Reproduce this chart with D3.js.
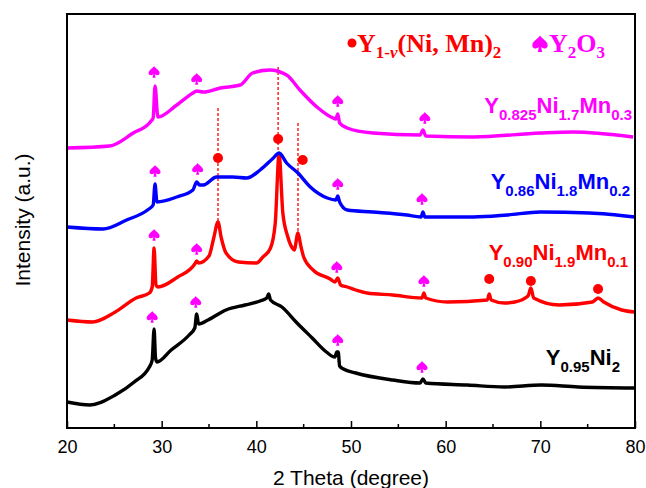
<!DOCTYPE html>
<html>
<head>
<meta charset="utf-8">
<script src="https://cdn.jsdelivr.net/npm/d3@7"></script>
<style>
  body { margin: 0; background: #fff; }
  svg { display: block; }
</style>
</head>
<body>
<svg id="chart" width="646" height="488"></svg>
<script>
// XRD patterns, stacked (intensity already offset)
const ticks = [20, 30, 40, 50, 60, 70, 80];

const black = [[20.0, 26], [22.4, 23], [25.1, 33], [27.1, 46], [28.7, 61], [29.0, 68], [29.2, 99], [29.35, 70],
  [29.5, 66], [31.0, 78], [32.9, 93], [33.5, 100], [33.7, 114], [33.9, 104], [34.9, 108], [36.8, 118],
  [38.8, 123], [40.4, 127], [41.1, 130], [41.3, 134], [41.5, 128], [42.7, 121], [44.3, 105], [45.9, 90],
  [47.4, 76], [48.3, 71], [48.5, 76], [48.65, 76], [48.8, 62], [49.2, 59], [50.5, 55], [54.4, 48],
  [57.3, 45], [57.6, 49], [57.9, 45], [62.3, 43], [66.2, 41], [70.1, 43], [74.0, 41], [80.0, 40]];

const red = [[20.0, 108], [22.7, 106], [25.1, 116], [27.3, 130], [28.7, 135], [29.0, 141], [29.2, 180], [29.4, 143],
  [29.6, 141], [31.7, 151], [33.5, 164], [33.7, 167], [33.9, 165], [35.0, 172], [35.5, 190], [35.95, 206],
  [36.3, 190], [36.8, 175], [38.1, 166], [40.0, 165], [40.7, 171], [41.5, 180], [42.0, 205], [42.4, 274],
  [42.8, 215], [43.3, 192], [43.8, 180], [44.0, 178], [44.4, 195], [44.7, 182], [45.0, 171], [46.0, 158],
  [47.8, 149], [48.3, 146], [48.6, 150], [48.9, 143], [49.6, 141], [50.5, 138], [51.7, 135], [54.4, 133],
  [57.5, 130], [57.7, 135], [57.9, 130], [60.2, 126], [64.4, 128], [64.6, 134], [64.8, 128], [66.2, 125],
  [67.3, 126], [68.7, 132], [69.0, 140], [69.3, 130], [72.0, 123], [75.5, 126], [76.1, 130], [76.7, 126],
  [78.6, 118], [80.0, 116]];

const blue = [[20.0, 201], [23.8, 199], [26.3, 208], [28.5, 218], [29.1, 223], [29.3, 244], [29.5, 226],
  [31.6, 231], [33.3, 238], [33.7, 246], [34.0, 243], [34.4, 243], [35.8, 251], [37.5, 251], [39.0, 250],
  [40.4, 258], [41.8, 270], [42.4, 275], [43.2, 265], [44.4, 255], [45.7, 241], [47.5, 230], [48.4, 228],
  [48.6, 232], [48.8, 226], [49.6, 218], [52.3, 216], [55.9, 213], [57.4, 211], [57.6, 216], [57.8, 211],
  [62.9, 211], [66.5, 213], [70.0, 216], [75.2, 215], [80.0, 211]];

const magenta = [[20.0, 280], [24.5, 282], [27.0, 295], [28.8, 306], [29.1, 310], [29.3, 342], [29.6, 311],
  [31.6, 323], [33.3, 335], [33.7, 337], [34.4, 336], [36.2, 340], [38.3, 343], [39.6, 355], [41.4, 358],
  [43.2, 353], [44.6, 338], [46.4, 321], [48.1, 310], [48.4, 309], [48.6, 314], [48.8, 305], [49.6, 300],
  [52.3, 295], [57.3, 293], [57.6, 298], [57.9, 292], [62.9, 291], [70.0, 295], [73.4, 296], [79.8, 291]];

// Y2O3 marks (spades) and Y1-v(Ni,Mn)2 marks (dots)
const spades = [[29.2, 356], [33.7, 349], [48.6, 327], [57.8, 310],
  [29.3, 257], [33.8, 259], [48.6, 244], [57.5, 229],
  [29.2, 193], [33.7, 179], [48.5, 161], [57.7, 147],
  [29.0, 111], [33.6, 126], [48.6, 88], [57.5, 61]];
const dots = [[35.95, 270], [42.3, 289], [44.9, 268], [64.6, 149], [69.0, 147], [76.1, 139]];
const dashes = [[35.95, 320, 206], [42.3, 361, 274], [44.4, 305, 195]];

const samples = [
  {data: magenta, color: "#ff00ff", label: [["Y", "0.825"], ["Ni", "1.7"], ["Mn", "0.3"]], at: [632, 113]},
  {data: blue, color: "#0000ff", label: [["Y", "0.86"], ["Ni", "1.8"], ["Mn", "0.2"]], at: [630, 189]},
  {data: red, color: "#ff0000", label: [["Y", "0.90"], ["Ni", "1.9"], ["Mn", "0.1"]], at: [628, 260]},
  {data: black, color: "#000000", label: [["Y", "0.95"], ["Ni", "2"]], at: [620, 365]}
];

const margin = {top: 14, right: 11, bottom: 60, left: 67};
const svg = d3.select("#chart");
const W = +svg.attr("width"), H = +svg.attr("height");

const x = d3.scaleLinear().domain([20, 80]).range([margin.left, W - margin.right]);
const y = d3.scaleLinear().domain([0, 414]).range([H - margin.bottom, margin.top]);

const line = d3.line().x(d => x(d[0])).y(d => y(d[1])).curve(d3.curveMonotoneX);

// dashed guides first, behind the patterns
svg.append("g").selectAll("line")
  .data(dashes)
  .join("line")
    .attr("x1", d => x(d[0])).attr("x2", d => x(d[0]))
    .attr("y1", d => y(d[1])).attr("y2", d => y(d[2]))
    .attr("stroke", "#ff0000")
    .attr("stroke-width", 1.3)
    .attr("stroke-dasharray", "3,2");

svg.append("g").selectAll("path")
  .data(samples.slice().reverse())
  .join("path")
    .attr("d", d => line(d.data))
    .attr("fill", "none")
    .attr("stroke", d => d.color)
    .attr("stroke-width", 3.4)
    .attr("stroke-linejoin", "round");

const spadePath = "M0,-6C1.5,-3.5 5.5,-2 5.5,1C5.5,3.6 2.2,3.9 0.7,2L1.6,5.8L-1.6,5.8L-0.7,2C-2.2,3.9 -5.5,3.6 -5.5,1C-5.5,-2 -1.5,-3.5 0,-6Z";

svg.append("g").selectAll("path")
  .data(spades)
  .join("path")
    .attr("d", spadePath)
    .attr("transform", d => `translate(${x(d[0])},${y(d[1])})`)
    .attr("fill", "#ff00ff");

svg.append("g").selectAll("circle")
  .data(dots)
  .join("circle")
    .attr("cx", d => x(d[0]))
    .attr("cy", d => y(d[1]))
    .attr("r", 5)
    .attr("fill", "#ff0000");

// sample labels with subscripts
samples.forEach(s => {
  const t = svg.append("text")
    .attr("x", s.at[0]).attr("y", s.at[1])
    .attr("text-anchor", "end")
    .attr("font-family", "Liberation Sans, Arial, sans-serif")
    .attr("font-weight", "bold")
    .attr("font-size", 22)
    .attr("fill", s.color);
  s.label.forEach((p, i) => {
    t.append("tspan").attr("dy", i ? -7 : 0).text(p[0]);
    t.append("tspan").attr("dy", 7).attr("font-size", 15).text(p[1]);
  });
});

// legend
svg.append("circle").attr("cx", 352).attr("cy", 43).attr("r", 4.5).attr("fill", "#ff0000");
const lg = svg.append("text")
  .attr("x", 357).attr("y", 52)
  .attr("font-family", "Liberation Serif, Times New Roman, serif")
  .attr("font-weight", "bold")
  .attr("font-size", 26)
  .attr("fill", "#ff0000");
lg.append("tspan").text("Y");
lg.append("tspan").attr("dy", 6).attr("font-size", 17).text("1-");
lg.append("tspan").attr("font-size", 17).attr("font-style", "italic").text("\u03bd");
lg.append("tspan").attr("dy", -6).text("(Ni, Mn)");
lg.append("tspan").attr("dy", 6).attr("font-size", 17).text("2");

svg.append("path")
  .attr("d", spadePath)
  .attr("transform", "translate(540,44) scale(1.4)")
  .attr("fill", "#ff00ff");
const lg2 = svg.append("text")
  .attr("x", 549).attr("y", 52)
  .attr("font-family", "Liberation Serif, Times New Roman, serif")
  .attr("font-weight", "bold")
  .attr("font-size", 26)
  .attr("fill", "#ff00ff");
lg2.append("tspan").text("Y");
lg2.append("tspan").attr("dy", 6).attr("font-size", 17).text("2");
lg2.append("tspan").attr("dy", -6).text("O");
lg2.append("tspan").attr("dy", 6).attr("font-size", 17).text("3");

// axes
const xAxis = svg.append("g")
  .attr("transform", `translate(0,${H - margin.bottom})`)
  .call(d3.axisBottom(x).tickValues(ticks).tickSize(-7).tickPadding(12).tickFormat(d3.format("d")));
xAxis.select(".domain").remove();
xAxis.selectAll(".tick line").attr("stroke-width", 1.5);
xAxis.selectAll(".tick text")
  .attr("font-family", "Liberation Sans, Arial, sans-serif")
  .attr("font-size", 18)
  .attr("fill", "#000");

svg.append("g").selectAll("line")
  .data(d3.range(25, 80, 10))
  .join("line")
    .attr("x1", d => x(d)).attr("x2", d => x(d))
    .attr("y1", H - margin.bottom).attr("y2", H - margin.bottom - 4)
    .attr("stroke", "#000").attr("stroke-width", 1.5);

svg.append("rect")
  .attr("x", margin.left).attr("y", margin.top)
  .attr("width", W - margin.left - margin.right)
  .attr("height", H - margin.top - margin.bottom)
  .attr("fill", "none")
  .attr("stroke", "#000")
  .attr("stroke-width", 2);

svg.append("text")
  .attr("x", x(50)).attr("y", 485)
  .attr("text-anchor", "middle")
  .attr("font-family", "Liberation Sans, Arial, sans-serif")
  .attr("font-size", 21)
  .text("2 Theta (degree)");

svg.append("text")
  .attr("transform", "translate(30,220) rotate(-90)")
  .attr("text-anchor", "middle")
  .attr("font-family", "Liberation Sans, Arial, sans-serif")
  .attr("font-size", 21)
  .text("Intensity (a.u.)");
</script>
</body>
</html>
